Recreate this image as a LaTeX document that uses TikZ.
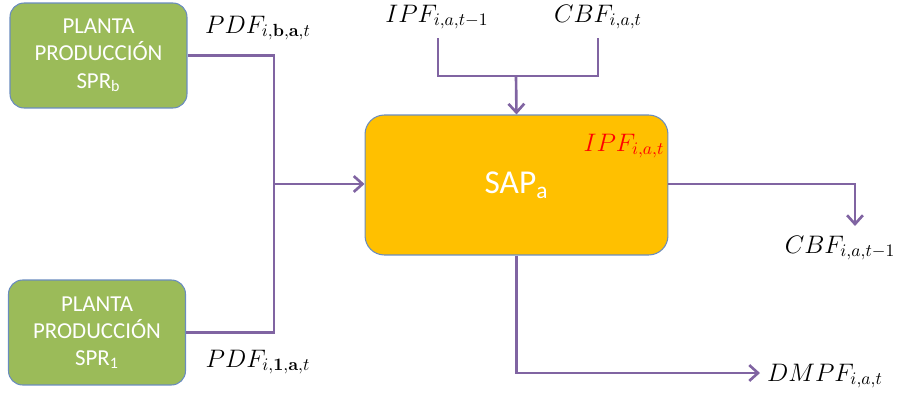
\documentclass[tikz,border=0pt]{standalone}
\usepackage{amsmath}
\usepackage[no-math]{fontspec}
\setmainfont{Carlito}
\usepackage{xcolor}
\usetikzlibrary{arrows.meta}
\usetikzlibrary{positioning}

\definecolor{plantgreen}{HTML}{9BBB59}
\definecolor{sapyellow}{HTML}{FFC000}
\definecolor{flowpurple}{HTML}{8064A2}
\definecolor{boxborder}{HTML}{6A8CBE}

\begin{document}
\begin{tikzpicture}[
        x=0.02cm, y=-0.02cm,
        plant/.style={draw=boxborder,line width=0.6pt,fill=plantgreen,rounded corners=8pt,
          minimum width=3.54cm,minimum height=2.1cm,align=center,text=white,
          font=\fontsize{13}{15.5}\selectfont},
        sapbox/.style={draw=boxborder,line width=0.6pt,fill=sapyellow,rounded corners=11pt,
          minimum width=6.06cm,minimum height=2.8cm,text=white,
          font=\fontsize{19}{22}\selectfont},
        flowlabel/.style={inner sep=1pt,font=\fontsize{14.5}{16}\selectfont},
        flow/.style={draw=flowpurple,line width=1.5pt},
        flowarrow/.style={flow,-{Straight Barb[length=5pt,width=9pt,line width=1.5pt]}}
        ]
        \useasboundingbox (0,0) rectangle (904,396);

        % boxes
        \node[plant] (sprb) at (98.5,55.5) {PLANTA\\PRODUCCIÓN\\SPR\textsubscript{b}};
        \node[plant] (spr1) at (97,332.5) {PLANTA\\PRODUCCIÓN\\SPR\textsubscript{1}};
        \node[sapbox] (sap) at (516.5,185) {SAP\textsubscript{a}};

        % labels
        \node[flowlabel] (pdfb) at (258,28) {$PDF_{i,\mathbf{b},\mathbf{a},t}$};
        \node[flowlabel] (pdf1) at (258,362) {$PDF_{i,\mathbf{1},\mathbf{a},t}$};
        \node[flowlabel] (ipfprev) at (437,17) {$IPF_{i,a,t-1}$};
        \node[flowlabel] (cbf) at (598,17) {$CBF_{i,a,t}$};
        \node[flowlabel,text=red] (ipf) at (624,146) {$IPF_{i,a,t}$};
        \node[flowlabel] (cbfprev) at (840,248) {$CBF_{i,a,t-1}$};
        \node[flowlabel] (dmpf) at (825,376) {$DMPF_{i,a,t}$};

        % junctions
        \coordinate (injn) at (274,184);
        \coordinate (topjn) at (516,76);
        \coordinate (ipfstart) at (438,38);
        \coordinate (cbfstart) at (598,38);
        \coordinate (cbfend) at (855,226);
        \coordinate (dmpfend) at (760,373);

        % connectors
        \draw[flow] (sprb.east) -| (injn) |- (spr1.east);
        \draw[flowarrow] (injn) -- (injn -| sap.west);
        \draw[flow] (ipfstart) |- (topjn) -| (cbfstart);
        \draw[flowarrow] (topjn) -- (sap.north);
        \draw[flowarrow] (sap.east |- injn) -| (cbfend);
        \draw[flowarrow] (sap.south) |- (dmpfend);
\end{tikzpicture}
\end{document}
